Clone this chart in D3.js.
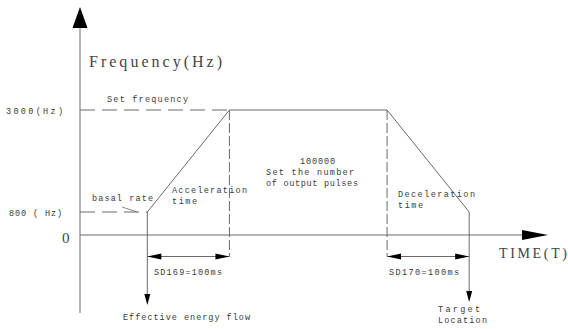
<!DOCTYPE html>
<html>
<head>
<meta charset="utf-8">
<script src="https://cdn.jsdelivr.net/npm/d3@7"></script>
<style>
  html, body { margin: 0; padding: 0; background: #fff; }
  svg { display: block; }
  .small { font-family: "Liberation Mono", "DejaVu Sans Mono", monospace; font-size: 8.5px; fill: #3a3a3a; }
  .big { font-family: "Liberation Serif", serif; fill: #444; }
</style>
</head>
<body>
<svg id="chart" width="568" height="329"></svg>
<script>
// ---- data ----
const freqLevels = [800, 3000];            // basal rate, set frequency (Hz)
const freqLabels = ["800 ( Hz)", "3000(Hz)"];
const phaseTimes = [82, 182, 374, 474];    // accel start, accel end, decel start, decel end (ms, schematic)
const phaseFreqs = [800, 3000, 3000, 800];
const accelLabel = "SD169=100ms";
const decelLabel = "SD170=100ms";
const timeMax = 570;

// ---- scales ----
const x = d3.scaleLinear().domain([0, timeMax]).range([80, 548]);
const y = d3.scaleLinear().domain([0, 800, 3000]).range([235, 212, 110]);

const svg = d3.select("#chart");
const lineCol = "#6a6a6a";

// axes
svg.append("line").attr("x1", x(0)).attr("x2", x(0)).attr("y1", 313).attr("y2", 26)
  .attr("stroke", lineCol).attr("stroke-width", 1);
svg.append("path").attr("d", `M${x(0)},7 L${x(0) - 7.5},28 L${x(0) + 7.5},28 Z`).attr("fill", "#000");
svg.append("line").attr("x1", x(0)).attr("x2", x(timeMax) - 20).attr("y1", y(0)).attr("y2", y(0))
  .attr("stroke", lineCol).attr("stroke-width", 1);
svg.append("path").attr("d", `M${x(timeMax)},${y(0)} L${x(timeMax) - 26},${y(0) - 5} L${x(timeMax) - 26},${y(0) + 5} Z`).attr("fill", "#000");

// axis titles
svg.append("text").attr("class", "big").attr("x", 89).attr("y", 67).text("Frequency(Hz)")
  .attr("font-size", 16).attr("textLength", 133).attr("lengthAdjust", "spacing");
svg.append("text").attr("class", "big").attr("x", 499).attr("y", 258).text("TIME(T)")
  .attr("font-size", 14).attr("textLength", 68).attr("lengthAdjust", "spacing");
svg.append("text").attr("class", "big").attr("x", 62).attr("y", 243).text("0")
  .attr("font-size", 15);

// y level labels
const freqLabelW = [53, 57];
freqLevels.forEach((f, i) => {
  svg.append("text").attr("class", "small").attr("x", i === 0 ? 9 : 6).attr("y", y(f) + 3.5).text(freqLabels[i])
    .attr("textLength", freqLabelW[i]).attr("lengthAdjust", "spacing");
});

// dashed level lines to the profile
svg.append("line").attr("x1", x(0)).attr("x2", x(phaseTimes[0])).attr("y1", y(freqLevels[0])).attr("y2", y(freqLevels[0]))
  .attr("stroke", lineCol).attr("stroke-dasharray", "15,7");
svg.append("line").attr("x1", x(0)).attr("x2", x(phaseTimes[1])).attr("y1", y(freqLevels[1])).attr("y2", y(freqLevels[1]))
  .attr("stroke", lineCol).attr("stroke-dasharray", "15,7");

// profile
const prof = d3.line().x((d, i) => x(phaseTimes[i])).y(d => y(d));
svg.append("path").attr("d", prof(phaseFreqs)).attr("fill", "none").attr("stroke", lineCol).attr("stroke-width", 1);

// vertical lines
const dimY = 256.5;
svg.append("line").attr("x1", x(phaseTimes[0])).attr("x2", x(phaseTimes[0])).attr("y1", y(phaseFreqs[0])).attr("y2", 296)
  .attr("stroke", lineCol);
svg.append("line").attr("x1", x(phaseTimes[3])).attr("x2", x(phaseTimes[3])).attr("y1", y(phaseFreqs[3])).attr("y2", 293)
  .attr("stroke", lineCol);
[[phaseTimes[0], 305], [phaseTimes[3], 302]].forEach(([t, tip]) => {
  const cx = x(t);
  svg.append("path").attr("d", `M${cx},${tip} L${cx - 3},${tip - 11} L${cx + 3},${tip - 11} Z`).attr("fill", "#000");
});
[phaseTimes[1], phaseTimes[2]].forEach(t => {
  svg.append("line").attr("x1", x(t)).attr("x2", x(t)).attr("y1", y(3000)).attr("y2", dimY)
    .attr("stroke", lineCol).attr("stroke-dasharray", "10,3");
});

// dimension lines
[[phaseTimes[0], phaseTimes[1]], [phaseTimes[2], phaseTimes[3]]].forEach(([a, b]) => {
  const xa = x(a), xb = x(b);
  svg.append("line").attr("x1", xa).attr("x2", xb).attr("y1", dimY).attr("y2", dimY).attr("stroke", lineCol);
  svg.append("path").attr("d", `M${xa},${dimY} L${xa + 14},${dimY - 3} L${xa + 14},${dimY + 3} Z`).attr("fill", "#000");
  svg.append("path").attr("d", `M${xb},${dimY} L${xb - 14},${dimY - 3} L${xb - 14},${dimY + 3} Z`).attr("fill", "#000");
});

// basal rate leader
svg.append("line").attr("x1", 122).attr("y1", 207).attr("x2", x(phaseTimes[0]) - 10).attr("y2", y(800))
  .attr("stroke", lineCol).attr("stroke-width", 0.8);

// annotations: x, baseline, text, width
const notes = [
  [107, 102, "Set frequency", 81],
  [92, 201, "basal rate", 61],
  [172, 193, "Acceleration", 75],
  [172, 204, "time", 25],
  [300, 164, "100000", 35],
  [266, 175, "Set the number", 88],
  [266, 186, "of output pulses", 92],
  [398, 197, "Deceleration", 77],
  [398, 208, "time", 25],
  [154, 275, accelLabel, 68],
  [389, 275, decelLabel, 70],
  [123, 320, "Effective energy flow", 127],
  [438, 312, "Target", 42],
  [438, 323, "Location", 49]
];
notes.forEach(([tx, ty, s, w]) => {
  svg.append("text").attr("class", "small").attr("x", tx).attr("y", ty).text(s)
    .attr("textLength", w).attr("lengthAdjust", "spacing");
});
</script>
</body>
</html>
